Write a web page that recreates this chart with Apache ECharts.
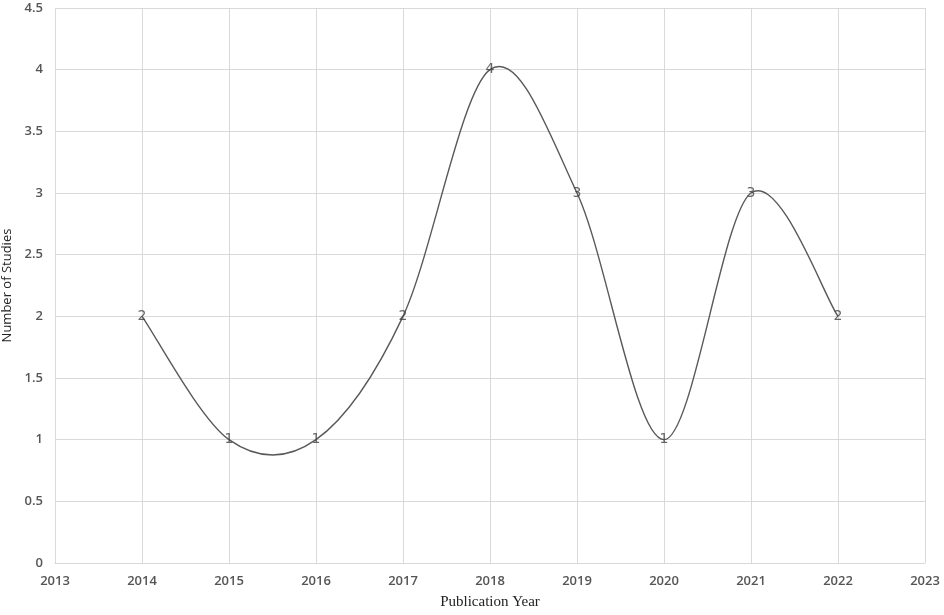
<!DOCTYPE html>
<html>
<head>
<meta charset="utf-8">
<script src="https://cdn.jsdelivr.net/npm/echarts@6/dist/echarts.min.js"></script>
<style>html,body{margin:0;padding:0;background:#fff}#c{width:944px;height:615px}</style>
</head>
<body>
<div id="c"></div>
<script>
const years = [2014, 2015, 2016, 2017, 2018, 2019, 2020, 2021, 2022];
const studies = [2, 1, 1, 2, 4, 3, 1, 3, 2];
const xTitle = 'Publication Year';
const yTitle = 'Number of Studies';

const chart = echarts.init(document.getElementById('c'));

// Excel-style smoothed line: cubic Bezier through the points (Catmull-Rom tangents),
// drawn through the chart's own coordinate system.
function renderCurve(params, api) {
  const pts = years.map((y, i) => api.coord([y, studies[i]]));
  const n = pts.length;
  const P = i => pts[Math.max(0, Math.min(n - 1, i))];
  let d = 'M' + pts[0][0] + ',' + pts[0][1];
  for (let i = 0; i < n - 1; i++) {
    const p0 = P(i - 1), p1 = P(i), p2 = P(i + 1), p3 = P(i + 2);
    const c1 = [p1[0] + (p2[0] - p0[0]) / 6, p1[1] + (p2[1] - p0[1]) / 6];
    const c2 = [p2[0] - (p3[0] - p1[0]) / 6, p2[1] - (p3[1] - p1[1]) / 6];
    d += ' C' + c1[0] + ',' + c1[1] + ' ' + c2[0] + ',' + c2[1] + ' ' + p2[0] + ',' + p2[1];
  }
  return {
    type: 'path',
    shape: {pathData: d},
    style: {fill: null, stroke: '#595959', lineWidth: 1.4}
  };
}

chart.setOption({
  animation: false,
  grid: {left: 55, right: 19, top: 8, bottom: 52, containLabel: false, outerBoundsMode: 'none'},
  xAxis: {
    type: 'value', min: 2013, max: 2023, interval: 1,
    name: xTitle, nameLocation: 'middle', nameGap: 32,
    nameTextStyle: {fontFamily: 'Liberation Serif', fontSize: 15, color: '#222'},
    axisLine: {show: true, lineStyle: {color: '#d9d9d9', width: 1}},
    axisTick: {show: false},
    splitLine: {show: true, lineStyle: {color: '#d9d9d9', width: 1}},
    axisLabel: {margin: 12, fontFamily: 'Open Sans', fontSize: 13, fontWeight: 600, color: '#555555', formatter: v => String(v)}
  },
  yAxis: {
    type: 'value', min: 0, max: 4.5, interval: 0.5,
    name: yTitle, nameLocation: 'middle', nameGap: 40, nameRotate: 90,
    nameTextStyle: {fontFamily: 'Open Sans', fontSize: 13, color: '#222'},
    axisLine: {show: false},
    axisTick: {show: false},
    splitLine: {show: true, lineStyle: {color: '#d9d9d9', width: 1}},
    axisLabel: {margin: 12, fontFamily: 'Open Sans', fontSize: 13, fontWeight: 600, color: '#555555'}
  },
  series: [{
    type: 'custom',
    data: [[years[0], studies[0]]],
    renderItem: renderCurve,
    silent: true,
    z: 2
  }, {
    type: 'scatter',
    data: years.map((y, i) => [y, studies[i]]),
    symbolSize: 2,
    itemStyle: {color: 'transparent'},
    z: 3,
    label: {show: true, position: 'inside', fontFamily: 'DejaVu Sans', fontSize: 14, color: '#404040', formatter: p => p.value[1]}
  }]
});
</script>
</body>
</html>
